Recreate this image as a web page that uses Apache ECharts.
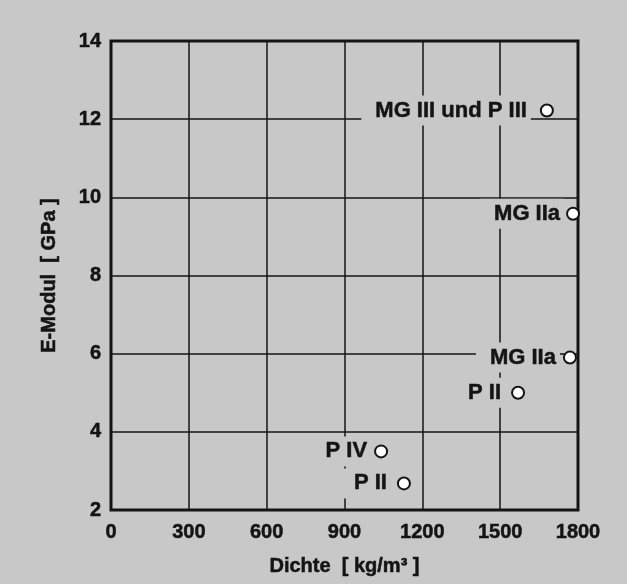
<!DOCTYPE html>
<html>
<head>
<meta charset="utf-8">
<script src="https://cdn.jsdelivr.net/npm/echarts@6/dist/echarts.min.js"></script>
<style>
html, body { margin: 0; padding: 0; background: #c8c8c8; }
#chart { width: 627px; height: 584px; }
</style>
</head>
<body>
<div id="chart"></div>
<script>
// Messpunkte: Dichte [kg/m³], E-Modul [GPa], Bezeichnung
var dichte = [1680, 1781, 1769, 1569, 1041, 1129];
var eModul = [12.22, 9.58, 5.9, 5.0, 3.5, 2.68];
var namen = ['MG III und P III', 'MG IIa', 'MG IIa', 'P II', 'P IV', 'P II'];

// Abstand der Beschriftung zum Punkt (nur Layout)
var labelAbstand = [9, 2, 3, 6, 3, 6];

var bg = '#c8c8c8';
var ink = '#141414';

var punkte = [];
for (var i = 0; i < dichte.length; i++) {
	punkte.push({
		value: [dichte[i], eModul[i]],
		name: namen[i],
		label: { distance: labelAbstand[i] }
	});
}

// fette Schrift, etwas kräftiger gezeichnet
var schrift = {
	color: ink,
	fontWeight: 'bold',
	fontFamily: 'Liberation Sans',
	textBorderColor: ink,
	textBorderWidth: 0.5
};

var myChart = echarts.init(document.getElementById('chart'));

var option = {
	backgroundColor: bg,
	animation: false,
	grid: {
		left: 111,
		right: 49,
		top: 41,
		bottom: 74,
		show: true,
		borderColor: ink,
		borderWidth: 3,
		backgroundColor: 'transparent'
	},
	xAxis: {
		type: 'value',
		min: 0,
		max: 1800,
		interval: 300,
		name: 'Dichte  [ kg/m³ ]',
		nameLocation: 'middle',
		nameGap: 46,
		nameTextStyle: Object.assign({ fontSize: 20 }, schrift),
		axisLine: { show: false },
		axisTick: { show: false },
		axisLabel: Object.assign({
			fontSize: 20, margin: 12,
			formatter: function (v) { return String(v); }
		}, schrift),
		splitLine: { lineStyle: { color: ink, width: 1.5 } }
	},
	yAxis: {
		type: 'value',
		min: 2,
		max: 14,
		interval: 2,
		name: 'E-Modul  [ GPa ]',
		nameLocation: 'middle',
		nameGap: 52,
		nameTextStyle: Object.assign({ fontSize: 20 }, schrift),
		axisLine: { show: false },
		axisTick: { show: false },
		axisLabel: Object.assign({ fontSize: 20, margin: 10 }, schrift),
		splitLine: { lineStyle: { color: ink, width: 1.5 } }
	},
	series: [{
		type: 'scatter',
		data: punkte,
		symbol: 'circle',
		symbolSize: 12,
		itemStyle: { color: '#ffffff', borderColor: ink, borderWidth: 2, opacity: 1 },
		label: Object.assign({
			show: true,
			position: 'left',
			distance: 3,
			formatter: function (p) { return p.name; },
			fontSize: 22,
			opacity: 1,
			backgroundColor: bg,
			padding: [4, 4, 4, 14]
		}, schrift)
	}]
};

myChart.setOption(option);
</script>
</body>
</html>
